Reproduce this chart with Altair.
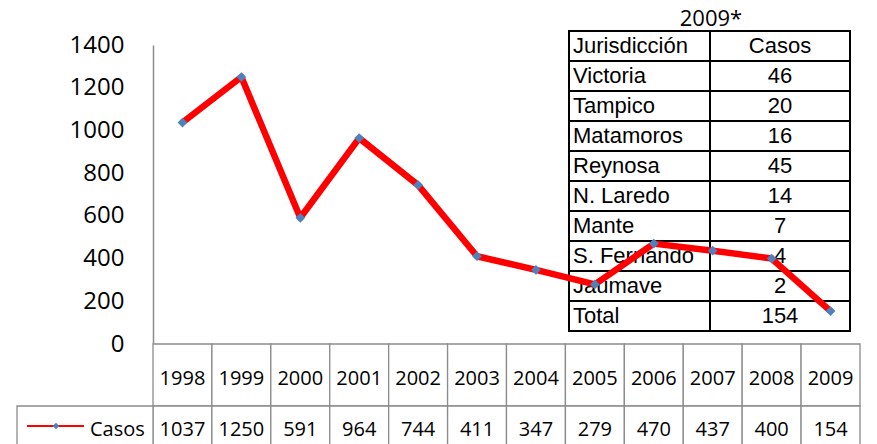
import altair as alt
import pandas as pd

# ---- data ----
years = ["1998", "1999", "2000", "2001", "2002", "2003", "2004", "2005", "2006", "2007", "2008", "2009"]
casos = [1037, 1250, 591, 964, 744, 411, 347, 279, 470, 437, 400, 154]

tabla_titulo = "2009*"
tabla_encabezado = ["Jurisdicción", "Casos"]
jurisdicciones = ["Victoria", "Tampico", "Matamoros", "Reynosa", "N. Laredo", "Mante", "S. Fernando", "Jaumave", "Total"]
casos_2009 = [46, 20, 16, 45, 14, 7, 4, 2, 154]
y_ticks = [0, 200, 400, 600, 800, 1000, 1200, 1400]
serie = "Casos"

W, H = 707, 299
RED = "#FF0000"
BLUE = "#4F81BD"
GRID = "#8C8C8C"

main_df = pd.DataFrame({"year": years, "casos": casos})
tab_df = pd.DataFrame({
    "r": list(range(len(jurisdicciones) + 1)),
    "name": [tabla_encabezado[0]] + jurisdicciones,
    "val": [tabla_encabezado[1]] + [str(v) for v in casos_2009],
})

xscale = alt.Scale(type="band", paddingInner=0, paddingOuter=0, domain=years)


def xe(bp=None):
    if bp is None:
        return alt.X("year:O", scale=xscale, axis=None)
    return alt.X("year:O", scale=xscale, axis=None, bandPosition=bp)


# ---- bottom data table ----
row1 = alt.Chart(main_df).mark_rect(fill="white", stroke=GRID, strokeWidth=1.3).encode(
    x=xe(), y=alt.value(299), y2=alt.value(361))
row2 = alt.Chart(main_df).mark_rect(fill="white", stroke=GRID, strokeWidth=1.3).encode(
    x=xe(), y=alt.value(361), y2=alt.value(440))
leg_df = pd.DataFrame({"s": [serie]})
leg_cell = alt.Chart(leg_df).mark_rect(fill="white", stroke=GRID, strokeWidth=1.3).encode(
    x=alt.value(-136), x2=alt.value(0), y=alt.value(361), y2=alt.value(440))
leg_line = alt.Chart(leg_df).mark_rule(color=RED, strokeWidth=2).encode(
    x=alt.value(-126), x2=alt.value(-69), y=alt.value(381))
leg_pt = alt.Chart(leg_df).mark_point(shape="diamond", filled=True, size=45, color=BLUE, opacity=1).encode(
    x=alt.value(-97), y=alt.value(381))
leg_txt = alt.Chart(leg_df).mark_text(font="Open Sans", fontSize=20, align="left", baseline="middle",
                                      color="black").encode(
    x=alt.value(-63), y=alt.value(385), text="s:N")
yr_txt = alt.Chart(main_df).mark_text(font="Open Sans", fontSize=20, baseline="middle", color="black").encode(
    x=xe(0.5), y=alt.value(334), text="year:N")
val_txt = alt.Chart(main_df).mark_text(font="Open Sans", fontSize=20, baseline="middle", color="black").encode(
    x=xe(0.5), y=alt.value(385), text="casos:Q")

# ---- inset table ----
yts = alt.Scale(type="band", range=[-14, 286], paddingInner=0, paddingOuter=0)
ytab = alt.Y("r:O", scale=yts, axis=None)
ytab_c = alt.Y("r:O", scale=yts, axis=None, bandPosition=0.5)
c1 = alt.Chart(tab_df).mark_rect(fill="white", stroke="black", strokeWidth=2).encode(
    y=ytab, x=alt.value(416), x2=alt.value(557))
c2 = alt.Chart(tab_df).mark_rect(fill="white", stroke="black", strokeWidth=2).encode(
    y=ytab, x=alt.value(557), x2=alt.value(697))
t1 = alt.Chart(tab_df).mark_text(font="Liberation Sans", fontSize=22, align="left", baseline="middle",
                                 color="black").encode(y=ytab_c, x=alt.value(420), text="name:N")
t2 = alt.Chart(tab_df).mark_text(font="Liberation Sans", fontSize=22, align="center", baseline="middle",
                                 color="black").encode(y=ytab_c, x=alt.value(627), text="val:N")
ttl = alt.Chart(pd.DataFrame({"t": [tabla_titulo]})).mark_text(
    font="Open Sans", fontSize=22, align="center", baseline="middle", color="black").encode(
    x=alt.value(558), y=alt.value(-26), text="t:N")
table = alt.layer(c1, c2, t1, t2, ttl)

# ---- main line ----
yenc = alt.Y("casos:Q", scale=alt.Scale(domain=[0, 1400], nice=False),
             axis=alt.Axis(values=y_ticks, format="d", grid=False, ticks=False, tickSize=0, labelFontSize=24,
                           labelFont="Open Sans", labelColor="black", labelPadding=29,
                           domainColor=GRID, domainWidth=1.5, title=None))
line = alt.Chart(main_df).mark_line(color=RED, strokeWidth=6.5, strokeJoin="round").encode(x=xe(0.5), y=yenc)
pts = alt.Chart(main_df).mark_point(shape="diamond", filled=True, size=95, color=BLUE, opacity=1).encode(
    x=xe(0.5), y="casos:Q")
main = alt.layer(line, pts)

chart = alt.layer(row1, row2, leg_cell, leg_line, leg_pt, leg_txt, yr_txt, val_txt, table, main).resolve_scale(
    y="independent"
).properties(
    width=W, height=H,
    autosize=alt.AutoSizeParams(type="none"),
    padding={"left": 145, "top": 37, "right": 9, "bottom": 100},
    background="white",
).configure_view(stroke=None)

chart.save("out.html", embed_options={"renderer": "svg", "actions": False})
